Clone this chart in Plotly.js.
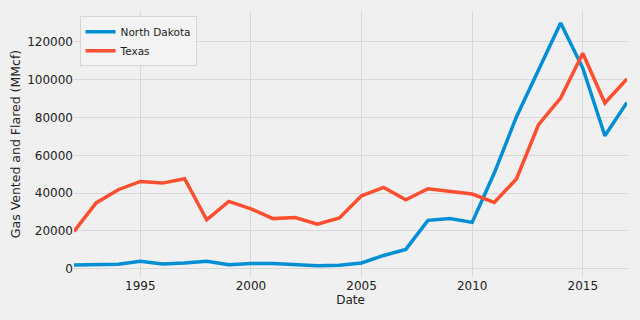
<!DOCTYPE html>
<html>
<head>
<meta charset="utf-8">
<script src="https://cdn.plot.ly/plotly-3.0.1.min.js"></script>
<style>
  html, body { margin: 0; padding: 0; background: #f0f0f0; }
  #plot { width: 640px; height: 320px; }
</style>
</head>
<body>
<div id="plot"></div>
<script>
// years and gas vented/flared (MMcf)
var years = [1992, 1993, 1994, 1995, 1996, 1997, 1998, 1999, 2000, 2001, 2002, 2003, 2004,
             2005, 2006, 2007, 2008, 2009, 2010, 2011, 2012, 2013, 2014, 2015, 2016, 2017];
var northDakota = [2000, 2100, 2300, 3900, 2500, 3000, 3900, 2100, 2800, 2700, 2300, 1600, 1800,
                   3000, 7000, 10200, 25600, 26600, 24500, 50600, 80300, 104800, 130000, 106200, 70400, 88000];
var texas = [19700, 34800, 41800, 46200, 45300, 47600, 25900, 35600, 31700, 26500, 27100, 23600, 26800,
             38600, 43000, 36500, 42300, 41100, 39500, 35100, 47500, 76200, 90300, 114000, 87700, 100500];

var trace1 = {
  x: years,
  y: northDakota,
  type: "scatter",
  mode: "lines",
  name: "North Dakota",
  line: { color: "#008fd5", width: 3.5 }
};
var trace2 = {
  x: years,
  y: texas,
  type: "scatter",
  mode: "lines",
  name: "Texas",
  line: { color: "#fc4f30", width: 3.5 }
};

var layout = {
  width: 640,
  height: 320,
  margin: { l: 74, r: 13, t: 11, b: 43 },
  paper_bgcolor: "#f0f0f0",
  plot_bgcolor: "#f0f0f0",
  font: { family: "DejaVu Sans", size: 12, color: "#222222" },
  showlegend: true,
  legend: {
    x: 0.01, y: 0.98, xanchor: "left", yanchor: "top",
    bgcolor: "#f3f3f3", bordercolor: "#d6d6d6", borderwidth: 1,
    font: { size: 10.5 },
    itemwidth: 30,
    tracegroupgap: 0
  },
  xaxis: {
    range: [1992, 2017],
    tickvals: [1995, 2000, 2005, 2010, 2015],
    showgrid: true,
    gridcolor: "#d8d8d8",
    gridwidth: 1,
    zeroline: false,
    showline: false,
    ticks: "",
    tickfont: { size: 12 },
    title: { text: "Date", font: { size: 12 }, standoff: 3 }
  },
  yaxis: {
    range: [-4400, 136400],
    tickvals: [0, 20000, 40000, 60000, 80000, 100000, 120000],
    tickformat: "d",
    showgrid: true,
    gridcolor: "#d8d8d8",
    gridwidth: 1,
    zeroline: false,
    showline: false,
    ticks: "",
    tickfont: { size: 12 },
    title: { text: "Gas Vented and Flared (MMcf)", font: { size: 12.5 }, standoff: 3 }
  }
};

Plotly.newPlot("plot", [trace1, trace2], layout, { displayModeBar: false, staticPlot: true });
</script>
</body>
</html>
